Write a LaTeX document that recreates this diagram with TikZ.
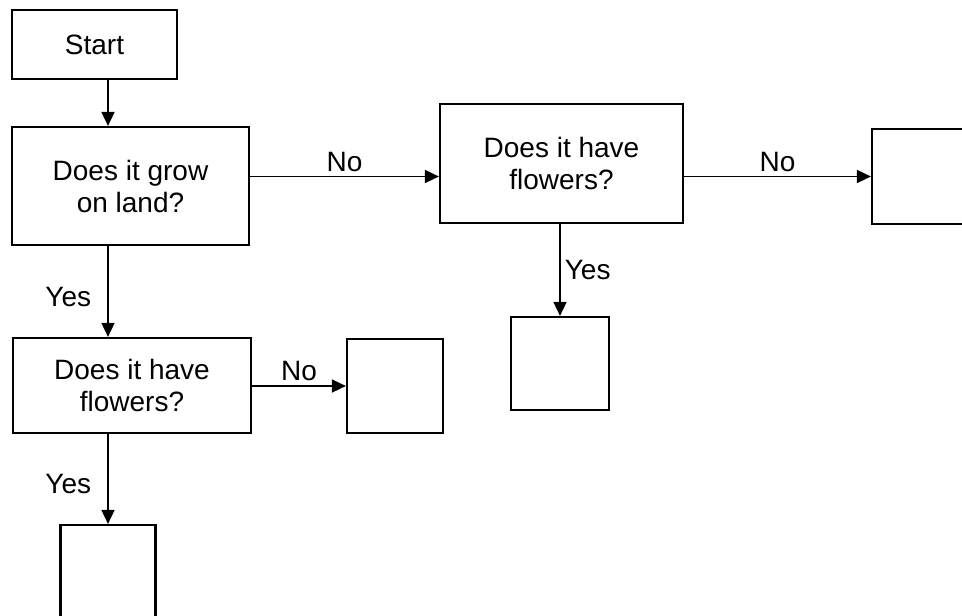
\documentclass[tikz,border=0pt]{standalone}
\usepackage{fontspec}
\setmainfont{Liberation Sans}
\usepackage{tikz}
\usetikzlibrary{positioning,arrows.meta,calc}
\tikzstyle{question} = [rectangle, draw=black, line width=2.2pt, align=center, text centered]
\tikzstyle{leaf}     = [rectangle, draw=black, line width=2.2pt]
\tikzstyle{arrow}    = [line width=1.7pt,-{Triangle[length=14pt,width=13pt]}]

\begin{document}
\begin{tikzpicture}[x=1pt,y=-1pt,font=\fontsize{28}{32}\selectfont,
			lbl/.style={inner sep=4pt}]
		\useasboundingbox (0,0) rectangle (962,616);

		% question boxes
		\node[question, minimum width=165pt, minimum height=69pt] (start) at (94.5,44.5) {Start};
		\node[question, minimum width=237pt, minimum height=118pt] (land) at (130.5,186) {Does it grow\\on land?};
		\node[question, minimum width=243pt, minimum height=119pt] (wflowers) at (561.5,163.5) {Does it have\\flowers?};
		\node[question, minimum width=238pt, minimum height=95pt] (lflowers) at (132,385.5) {Does it have\\flowers?};

		% empty answer boxes
		\node[leaf, minimum width=120pt, minimum height=95pt] (wno) at (932,176.5) {};
		\node[leaf, minimum width=98pt, minimum height=93pt] (wyes) at (560,363.5) {};
		\node[leaf, minimum width=96pt, minimum height=94pt] (lno) at (395,386) {};
		\node[leaf, minimum width=95pt, minimum height=100pt] (lyes) at (108,575) {};

		% connectors
		\draw[arrow] (start.south -| lyes.north) -- (land.north -| lyes.north);
		\draw[arrow] (land.east |- wno.west) -- node[above, lbl] {No} (wflowers.west |- wno.west);
		\draw[arrow] (wflowers.east |- wno.west) -- node[above, lbl] {No} (wno.west);
		\draw[arrow] (wflowers.south -| wyes.north) -- node[right, lbl, pos=0.5] {Yes} (wyes.north);
		\draw[arrow] (land.south -| lyes.north) -- node[left, pos=0.56, inner sep=16pt] {Yes} (lflowers.north -| lyes.north);
		\draw[arrow] (lflowers.east |- lno.west) -- node[above, lbl] {No} (lno.west);
		\draw[arrow] (lflowers.south -| lyes.north) -- node[left, pos=0.56, inner sep=16pt] {Yes} (lyes.north);
	\end{tikzpicture}
\end{document}
